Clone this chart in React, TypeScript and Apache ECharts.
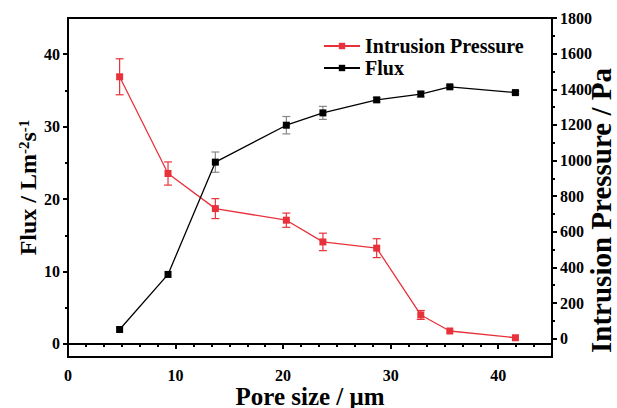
import React, { useEffect, useRef } from "react";
import * as echarts from "echarts";

const poreSize = [4.8, 9.3, 13.7, 20.3, 23.7, 28.7, 32.8, 35.5, 41.6];
const flux = [2.0, 9.6, 25.1, 30.2, 31.9, 33.7, 34.5, 35.5, 34.7];
const fluxErr = [0, 0, 1.4, 1.2, 0.9, 0.3, 0.4, 0.2, 0.2];
const pressure = [1470, 927, 730, 665, 543, 508, 133, 43, 5];
const pressureErr = [101, 65, 56, 40, 49, 53, 25, 0, 0];

const xTicks = [0, 10, 20, 30, 40];
const fluxTicks = [0, 10, 20, 30, 40];
const fluxMinorTicks = [5, 15, 25, 35];
const pressureTicks = [0, 200, 400, 600, 800, 1000, 1200, 1400, 1600, 1800];
const pressureMinorTicks = [100, 300, 500, 700, 900, 1100, 1300, 1500, 1700];

const FONT = '"Liberation Serif", "Times New Roman", serif';
const RED = "#e8323b";

function errItem(color: string) {
  return (params: any, api: any) => {
    const x = api.value(0);
    const lo = api.value(1);
    const hi = api.value(2);
    if (hi - lo <= 0) return null;
    const pLo = api.coord([x, lo]);
    const pHi = api.coord([x, hi]);
    const w = 4;
    const style = { stroke: color, lineWidth: 1.2 };
    return {
      type: "group",
      children: [
        { type: "line", shape: { x1: pLo[0], y1: pLo[1], x2: pHi[0], y2: pHi[1] }, style },
        { type: "line", shape: { x1: pLo[0] - w, y1: pLo[1], x2: pLo[0] + w, y2: pLo[1] }, style },
        { type: "line", shape: { x1: pHi[0] - w, y1: pHi[1], x2: pHi[0] + w, y2: pHi[1] }, style },
      ],
    };
  };
}

export default function App() {
  const ref = useRef<HTMLDivElement>(null);
  useEffect(() => {
    if (!ref.current) return;
    const chart = echarts.init(ref.current, null, { renderer: "svg" });
    const labelStyle = { fontFamily: FONT, fontWeight: "bold" as const, fontSize: 16, color: "#000" };
    const axisLine = { show: true, lineStyle: { color: "#000", width: 2 } };
    const tickLine = { color: "#000", width: 2 };
    const minorAxis = (pos: string, min: number, max: number, vals: number[]) => ({
      type: "value",
      min,
      max,
      position: pos,
      axisLine: { show: false },
      axisTick: { show: true, length: 3, lineStyle: tickLine, customValues: vals },
      axisLabel: { show: false },
      splitLine: { show: false },
    });
    chart.setOption({
      animation: false,
      backgroundColor: "#fff",
      grid: {
        left: 68,
        top: 18,
        right: 65,
        bottom: 51,
        containLabel: false,
        outerBoundsMode: "none",
        show: true,
        borderColor: "#000",
        borderWidth: 2,
        backgroundColor: "transparent",
      },
      legend: {
        orient: "vertical",
        left: 318,
        top: 31,
        itemGap: 2,
        itemWidth: 36,
        itemHeight: 8,
        data: ["Intrusion Pressure", "Flux"],
        textStyle: { fontFamily: FONT, fontWeight: "bold", fontSize: 20, color: "#000" },
      },
      xAxis: {
        type: "value",
        min: 0,
        max: 45,
        interval: 10,
        name: "Pore size / μm",
        nameLocation: "middle",
        nameGap: 28,
        nameMoveOverlap: false,
        nameTextStyle: { fontFamily: FONT, fontWeight: "bold", fontSize: 25, lineHeight: 22, color: "#000" },
        axisLine,
        axisTick: { show: true, length: 5, lineStyle: tickLine },
        minorTick: { show: true, splitNumber: 6, length: 3, lineStyle: tickLine },
        splitLine: { show: false },
        axisLabel: { ...labelStyle, margin: 10, customValues: xTicks },
      },
      yAxis: [
        {
          type: "value",
          min: -1.8,
          max: 45,
          position: "left",
          name: "{a|Flux / Lm}{s|-2}{a|s}{s|-1}",
          nameLocation: "middle",
          nameGap: 28,
          nameRotate: 90,
          nameMoveOverlap: false,
          nameTextStyle: {
            rich: {
              a: { fontFamily: FONT, fontWeight: "bold", fontSize: 24, color: "#000" },
              s: { fontFamily: FONT, fontWeight: "bold", fontSize: 15, color: "#000", verticalAlign: "top" },
            },
          },
          axisLine,
          axisTick: { show: true, length: 5, lineStyle: tickLine, customValues: fluxTicks },
          splitLine: { show: false },
          axisLabel: { ...labelStyle, margin: 8, customValues: fluxTicks },
        },
        {
          type: "value",
          min: -103,
          max: 1800,
          position: "right",
          name: "Intrusion Pressure / Pa",
          nameLocation: "middle",
          nameGap: 34,
          nameRotate: 90,
          nameMoveOverlap: false,
          nameTextStyle: { fontFamily: FONT, fontWeight: "bold", fontSize: 29, color: "#000", padding: [0, 46, 0, 0] },
          axisLine,
          axisTick: { show: true, length: 5, lineStyle: tickLine, customValues: pressureTicks },
          splitLine: { show: false },
          axisLabel: { ...labelStyle, margin: 8, customValues: pressureTicks, formatter: (v: number) => String(v) },
        },
        minorAxis("left", -1.8, 45, fluxMinorTicks),
        minorAxis("right", -103, 1800, pressureMinorTicks),
      ],
      series: [
        {
          name: "Intrusion Pressure",
          type: "line",
          yAxisIndex: 1,
          data: poreSize.map((x, i) => [x, pressure[i]]),
          symbol: "rect",
          symbolSize: 7,
          itemStyle: { color: RED },
          lineStyle: { color: RED, width: 1.3 },
          z: 3,
        },
        {
          name: "Flux",
          type: "line",
          yAxisIndex: 0,
          data: poreSize.map((x, i) => [x, flux[i]]),
          symbol: "rect",
          symbolSize: 7,
          itemStyle: { color: "#000" },
          lineStyle: { color: "#000", width: 1.3 },
          z: 3,
        },
        {
          name: "pressureErr",
          type: "custom",
          yAxisIndex: 1,
          renderItem: errItem(RED),
          data: poreSize.map((x, i) => [x, pressure[i] - pressureErr[i], pressure[i] + pressureErr[i]]),
          z: 2,
        },
        {
          name: "fluxErr",
          type: "custom",
          yAxisIndex: 0,
          renderItem: errItem("#888"),
          data: poreSize.map((x, i) => [x, flux[i] - fluxErr[i], flux[i] + fluxErr[i]]),
          z: 2,
        },
      ],
    });
    return () => chart.dispose();
  }, []);
  return <div ref={ref} style={{ width: 617, height: 408, position: "absolute", left: 0, top: 0 }} />;
}
